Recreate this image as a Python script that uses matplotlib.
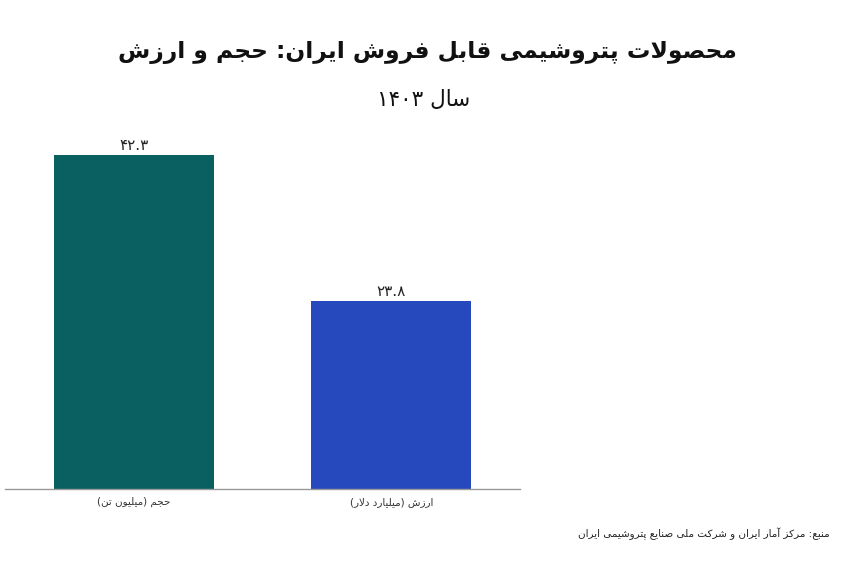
import re
import matplotlib
matplotlib.use('Agg')
import matplotlib.pyplot as plt

# داده‌ها
categories = ['حجم (میلیون تن)', 'ارزش (میلیارد دلار)']
values = [42.3, 23.8]
colors = ['#0a6060', '#264abd']

title = 'محصولات پتروشیمی قابل فروش ایران: حجم و ارزش'
subtitle = 'سال ۱۴۰۳'
source = 'منبع: مرکز آمار ایران و شرکت ملی صنایع پتروشیمی ایران'

# شکل‌دهی ساده حروف فارسی (matplotlib خودش حروف را به هم نمی‌چسباند)
# isolated, final, initial, medial
FORMS = {
    'ا': ('\uFE8D', '\uFE8E', None, None),
    'آ': ('\uFE81', '\uFE82', None, None),
    'ب': ('\uFE8F', '\uFE90', '\uFE91', '\uFE92'),
    'پ': ('\uFB56', '\uFB57', '\uFB58', '\uFB59'),
    'ت': ('\uFE95', '\uFE96', '\uFE97', '\uFE98'),
    'ج': ('\uFE9D', '\uFE9E', '\uFE9F', '\uFEA0'),
    'ح': ('\uFEA1', '\uFEA2', '\uFEA3', '\uFEA4'),
    'د': ('\uFEA9', '\uFEAA', None, None),
    'ر': ('\uFEAD', '\uFEAE', None, None),
    'ز': ('\uFEAF', '\uFEB0', None, None),
    'س': ('\uFEB1', '\uFEB2', '\uFEB3', '\uFEB4'),
    'ش': ('\uFEB5', '\uFEB6', '\uFEB7', '\uFEB8'),
    'ص': ('\uFEB9', '\uFEBA', '\uFEBB', '\uFEBC'),
    'ع': ('\uFEC9', '\uFECA', '\uFECB', '\uFECC'),
    'ف': ('\uFED1', '\uFED2', '\uFED3', '\uFED4'),
    'ق': ('\uFED5', '\uFED6', '\uFED7', '\uFED8'),
    'ک': ('\uFB8E', '\uFB8F', '\uFB90', '\uFB91'),
    'ل': ('\uFEDD', '\uFEDE', '\uFEDF', '\uFEE0'),
    'م': ('\uFEE1', '\uFEE2', '\uFEE3', '\uFEE4'),
    'ن': ('\uFEE5', '\uFEE6', '\uFEE7', '\uFEE8'),
    'و': ('\uFEED', '\uFEEE', None, None),
    'ی': ('\uFBFC', '\uFBFD', '\uFBFE', '\uFBFF'),
}
LAM_ALEF = {'ا': ('\uFEFB', '\uFEFC'), 'آ': ('\uFEF5', '\uFEF6')}


def shape(text):
    out = []
    i = 0
    n = len(text)
    while i < n:
        c = text[i]
        if c not in FORMS:
            out.append(c)
            i += 1
            continue
        prev = text[i - 1] if i > 0 else None
        joins_prev = prev in FORMS and FORMS[prev][2] is not None
        nxt = text[i + 1] if i + 1 < n else None
        if c == 'ل' and nxt in LAM_ALEF:
            out.append(LAM_ALEF[nxt][1 if joins_prev else 0])
            i += 2
            continue
        joins_next = nxt in FORMS and FORMS[c][2] is not None
        iso, fin, ini, med = FORMS[c]
        if joins_prev and joins_next:
            out.append(med)
        elif joins_prev:
            out.append(fin)
        elif joins_next:
            out.append(ini)
        else:
            out.append(iso)
        i += 1
    return ''.join(out)


MIRROR = {'(': ')', ')': '('}


def fa(text):
    s = shape(text)
    tokens = re.findall(r'[0-9۰-۹]+(?:\.[0-9۰-۹]+)?|.', s)
    res = []
    for t in reversed(tokens):
        res.append(MIRROR.get(t, t))
    return ''.join(res)


def fa_num(v):
    return f'{v:.1f}'.translate(str.maketrans('0123456789', '۰۱۲۳۴۵۶۷۸۹'))


plt.rcParams['font.family'] = ['DejaVu Sans']

fig = plt.figure(figsize=(8.61, 5.69), dpi=100)
ax = fig.add_axes([5 / 861, 1 - 489 / 569, 515 / 861, (489 - 134) / 569])

x = range(len(values))
bars = ax.bar(x, values, width=0.62, color=colors)
for b, v in zip(bars, values):
    ax.text(b.get_x() + b.get_width() / 2, v + 0.25, fa_num(v),
            ha='center', va='bottom', fontsize=11, color='#222222')

ax.set_xlim(-0.5, 1.5)
ax.set_ylim(0, 45)
ax.set_xticks(list(x))
ax.set_xticklabels([fa(c) for c in categories], fontsize=7.5, color='#333333')
ax.tick_params(axis='x', length=0, pad=6)
ax.set_yticks([])
for side in ['left', 'right', 'top']:
    ax.spines[side].set_visible(False)
ax.spines['bottom'].set_color('#999999')
ax.spines['bottom'].set_linewidth(1)

fig.text(0.497, 1 - 53 / 569, fa(title), ha='center', va='center',
         fontsize=16.8, fontweight='bold', color='#111111')
fig.text(0.492, 1 - 100 / 569, fa(subtitle), ha='center', va='center',
         fontsize=15.5, color='#111111')
fig.text(830 / 861, 1 - 534 / 569, fa(source), ha='right', va='center',
         fontsize=7.5, color='#222222')

fig.savefig('out.png', dpi=100)
